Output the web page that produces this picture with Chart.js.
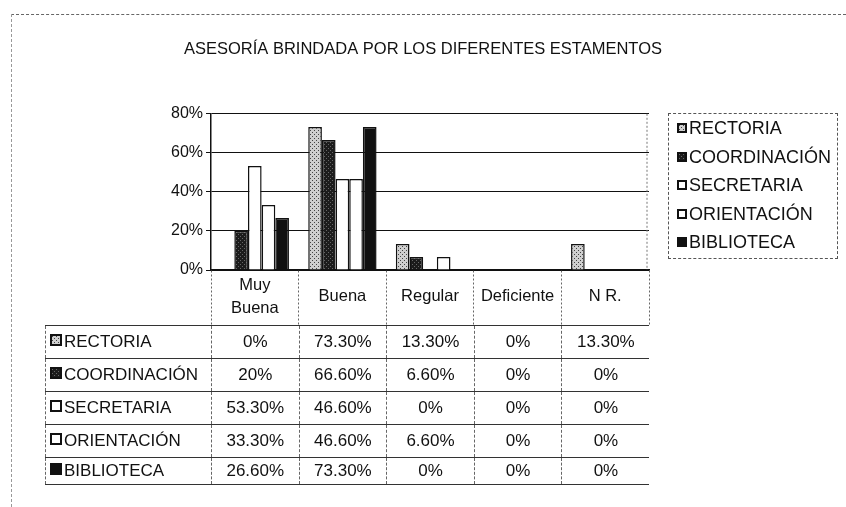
<!DOCTYPE html>
<html lang="es">
<head>
<meta charset="UTF-8">
<title>Asesoría brindada por los diferentes estamentos</title>
<script src="https://cdn.jsdelivr.net/npm/chart.js"></script>
<style>
  body { margin: 0; background: #fff; font-family: "Liberation Sans", Arial, sans-serif; color: #111; }
  #page { position: relative; width: 846px; height: 507px; overflow: hidden; }
  #marco { position: absolute; left: 11px; top: 14px; right: 0; bottom: 0; border-top: 1px dashed #666; border-left: 1px dashed #999; }
  #grafico { position: absolute; left: 0; top: 0; }
  #leyenda { position: absolute; left: 668px; top: 113px; width: 170px; height: 146px; box-sizing: border-box;
             border: 1px dashed #555; padding-top: 0; }
  .item { height: 28.5px; line-height: 28.5px; font-size: 18px; padding-left: 8px; white-space: nowrap; }
  .sw { display: inline-block; width: 6px; height: 6px; border: 2px solid #111; margin-right: 2px; vertical-align: 1px; }
  #tabla { position: absolute; top: 325px; left: 45px; border-collapse: collapse; font-size: 17px; table-layout: fixed; }
  #tabla td { height: 32px; padding: 0; text-align: center; border-top: 1px solid #333; border-left: 1px dashed #666; white-space: nowrap; }
  #tabla td.nombre { text-align: left; padding-left: 4px; }
  #tabla tr:last-child td { border-bottom: 1px solid #333; height: 26px; }
  #tabla .sw { width: 8px; height: 8px; }
</style>
</head>
<body>
<div id="page">
  <div id="marco"></div>
  <canvas id="grafico" width="846" height="330"></canvas>
  <div id="leyenda"></div>
  <table id="tabla"></table>
</div>
<script>
  const categorias = [['Muy', 'Buena'], 'Buena', 'Regular', 'Deficiente', 'N R.'];
  const series = ['RECTORIA', 'COORDINACIÓN', 'SECRETARIA', 'ORIENTACIÓN', 'BIBLIOTECA'];
  const rectoria = [0, 73.3, 13.3, 0, 13.3];
  const coordinacion = [20, 66.6, 6.6, 0, 0];
  const secretaria = [53.3, 46.6, 0, 0, 0];
  const orientacion = [33.3, 46.6, 6.6, 0, 0];
  const biblioteca = [26.6, 73.3, 0, 0, 0];
  const ticksY = [0, 20, 40, 60, 80];

  const fuente = '"Liberation Sans", Arial, sans-serif';
  const ctx = document.getElementById('grafico').getContext('2d');

  // tramas tipo impresión
  function trama(fondo, punto) {
    const c = document.createElement('canvas');
    c.width = 4; c.height = 4;
    const g = c.getContext('2d');
    g.fillStyle = fondo; g.fillRect(0, 0, 4, 4);
    g.fillStyle = punto; g.fillRect(0, 0, 1, 1); g.fillRect(2, 2, 1, 1);
    return c;
  }
  const tramaRect = trama('#cfcfcf', '#444');
  const tramaCoord = trama('#1c1c1c', '#666');
  const rellenos = [
    ctx.createPattern(tramaRect, 'repeat'),
    ctx.createPattern(tramaCoord, 'repeat'),
    '#ffffff', '#ffffff', '#111111'
  ];
  const swatch = [
    'url(' + tramaRect.toDataURL() + ')',
    'url(' + tramaCoord.toDataURL() + ')',
    '#fff', '#fff', '#111'
  ];
  const valores = [rectoria, coordinacion, secretaria, orientacion, biblioteca];

  // borde derecho punteado del área de trazado
  const bordeDerecho = {
    id: 'bordeDerecho',
    afterDraw(c) {
      const a = c.chartArea, g = c.ctx;
      g.save();
      g.strokeStyle = '#777';
      g.setLineDash([2, 2]);
      g.beginPath();
      g.moveTo(a.right - 2, a.top);
      g.lineTo(a.right - 2, a.bottom);
      g.stroke();
      g.restore();
    }
  };

  const chart = new Chart(ctx, {
    type: 'bar',
    data: {
      labels: categorias,
      datasets: series.map((s, i) => ({
        label: s,
        data: valores[i],
        backgroundColor: rellenos[i],
        borderColor: '#111',
        borderWidth: 1.5,
        barPercentage: 1,
        categoryPercentage: 0.78
      }))
    },
    options: {
      responsive: false,
      animation: false,
      layout: { padding: { top: 0, left: 0, right: 0, bottom: 5 } },
      plugins: {
        legend: { display: false },
        tooltip: { enabled: false },
        title: {
          display: true,
          text: 'ASESORÍA BRINDADA POR LOS DIFERENTES ESTAMENTOS',
          color: '#111',
          font: { family: fuente, size: 16.5, weight: 'normal' },
          padding: { top: 40, bottom: 54 }
        }
      },
      scales: {
        y: {
          min: 0, max: 80,
          afterBuildTicks: s => { s.ticks = ticksY.map(v => ({ value: v })); },
          afterFit: s => { s.width = 211; },
          ticks: { callback: v => v + '%', color: '#111', font: { family: fuente, size: 16 }, padding: 3 },
          grid: { color: '#111', lineWidth: 1, tickLength: 5 },
          border: { color: '#111', width: 1.5 }
        },
        // margen derecho reservado para la leyenda
        margen: {
          type: 'linear', position: 'right',
          ticks: { display: false }, grid: { display: false }, border: { display: false },
          afterFit: s => { s.width = 197; }
        },
        x: {
          afterFit: s => { s.height = 55; },
          ticks: { color: '#111', font: { family: fuente, size: 16.5, lineHeight: 1.4 }, padding: -40, crossAlign: 'center' },
          grid: {
            drawOnChartArea: false, tickLength: 55, offset: true, tickBorderDash: [2, 2],
            color: c => c.index === categorias.length ? 'rgba(0,0,0,0)' : '#666'
          },
          border: { color: '#111', width: 1.5 }
        }
      }
    },
    plugins: [bordeDerecho]
  });

  // leyenda
  const ley = document.getElementById('leyenda');
  series.forEach((s, i) => {
    const d = document.createElement('div');
    d.className = 'item';
    d.innerHTML = '<span class="sw" style="background:' + swatch[i] + '"></span>' + s;
    ley.appendChild(d);
  });

  // tabla de datos alineada con las categorías
  const xs = chart.scales.x;
  const anchoCat = (xs.right - xs.left) / categorias.length;
  const tabla = document.getElementById('tabla');
  const fmt = v => Number.isInteger(v) ? v + '%' : v.toFixed(2) + '%';
  const cg = document.createElement('colgroup');
  cg.innerHTML = '<col style="width:' + (xs.left - 45) + 'px">' +
    categorias.map(() => '<col style="width:' + anchoCat + 'px">').join('');
  tabla.appendChild(cg);
  series.forEach((s, i) => {
    const tr = document.createElement('tr');
    let html = '<td class="nombre"><span class="sw" style="background:' + swatch[i] + '"></span>' + s + '</td>';
    valores[i].forEach(v => { html += '<td>' + fmt(v) + '</td>'; });
    tr.innerHTML = html;
    tabla.appendChild(tr);
  });
</script>
</body>
</html>
